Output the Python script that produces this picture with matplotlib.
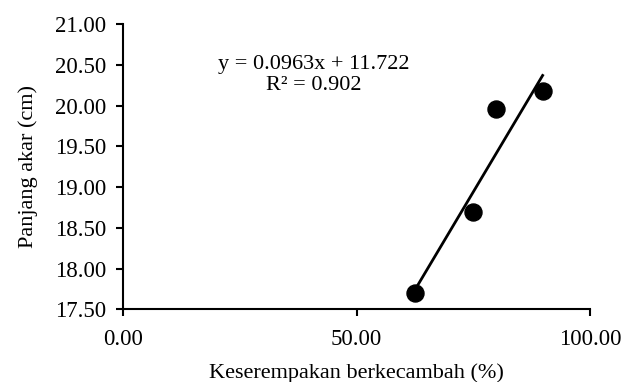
import numpy as np
import matplotlib
matplotlib.use("Agg")
import matplotlib.pyplot as plt

# data
keserempakan = [62.4, 74.9, 79.9, 89.8]
panjang_akar = [17.70, 18.69, 19.96, 20.18]
slope = 0.0963
intercept = 11.722
r2 = 0.902

x_ticks = [0, 50, 100]
y_ticks = [17.5, 18.0, 18.5, 19.0, 19.5, 20.0, 20.5, 21.0]

plt.rcParams['font.family'] = ['Liberation Serif', 'DejaVu Serif']

fig = plt.figure(figsize=(6.3, 3.82), dpi=100)
ax = fig.add_axes([0.195, 0.19, 0.742, 0.747])

# trend line over the data range
xs = np.array([min(keserempakan), max(keserempakan)])
ax.plot(xs, slope * xs + intercept, color='black', lw=2)

ax.scatter(keserempakan, panjang_akar, s=150, color='black', zorder=3)

ax.set_xlim(0, 100)
ax.set_ylim(17.5, 21.0)
ax.set_xticks(x_ticks)
ax.set_xticklabels(['%.2f' % v for v in x_ticks])
ax.set_yticks(y_ticks)
ax.set_yticklabels(['%.2f' % v for v in y_ticks])

for s in ['top', 'right']:
    ax.spines[s].set_visible(False)
for s in ['left', 'bottom']:
    ax.spines[s].set_linewidth(1.5)
ax.tick_params(axis='both', direction='out', length=5, width=1.5, labelsize=16.5)
ax.tick_params(axis='x', pad=9)
ax.tick_params(axis='y', pad=7)

ax.set_xlabel('Keserempakan berkecambah (%)', fontsize=16, labelpad=10)
ax.set_ylabel('Panjang akar (cm)', fontsize=16, labelpad=12)

ax.text(0.408, 0.82, 'y = %.4fx + %.3f\nR² = %.3f' % (slope, intercept, r2),
        transform=ax.transAxes, ha='center', va='center', fontsize=16,
        linespacing=1.15)

fig.savefig('out.png', dpi=100)
